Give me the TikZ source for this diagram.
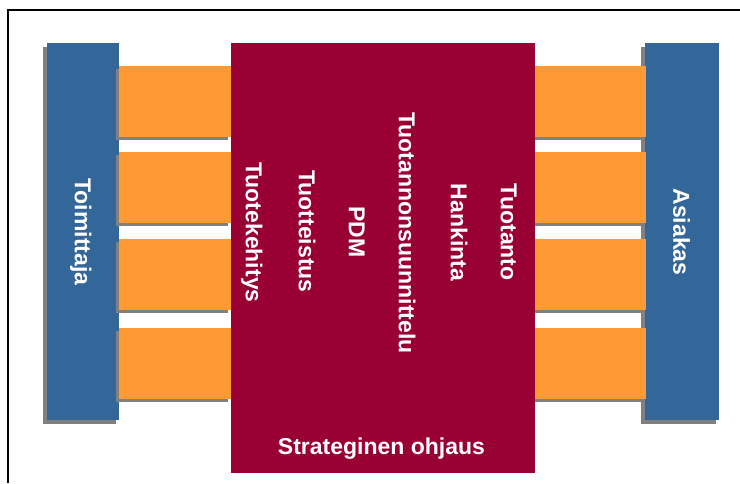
\documentclass[tikz,border=0pt]{standalone}
\usepackage{fontspec}
\setmainfont{Liberation Sans}
\definecolor{barblue}{HTML}{336699}
\definecolor{barorange}{HTML}{FF9933}
\definecolor{boxred}{HTML}{990033}
\definecolor{shadowgray}{HTML}{808080}
\begin{document}
\begin{tikzpicture}[x=1pt,y=-1pt,
  box/.style={rectangle,inner sep=0pt,outer sep=0pt,draw=none},
  bluebar/.style={box,fill=barblue,minimum width=73pt,minimum height=376.7pt},
  orangebar/.style={box,fill=barorange,minimum width=112pt,minimum height=71pt},
  shadowbox/.style={fill=shadowgray},
  lbl/.style={inner sep=0pt,text=white,font=\fontsize{23}{27}\selectfont\bfseries,
    text height=16.5pt,text depth=0pt},
  vlbl/.style={lbl,rotate=-90}]
\useasboundingbox (0,0) rectangle (740,483);
\fill[white] (0,0) rectangle (740,483);
% frame
\draw[line width=2pt] (7.5,483) -- (7.5,10) -- (740,10);
% blue bar shadows
\fill[shadowgray] (42.7,47.3) rectangle (116.3,424);
\fill[shadowgray] (641,47.3) rectangle (716,424);
% blue bars
\node[bluebar,minimum width=72.6pt] (toim) at (83,231.65) {};
\node[bluebar,minimum width=74.3pt] (asia) at (682.15,231.65) {};
% orange bar shadows and bars
\foreach \i/\yy in {1/101.5,2/187.5,3/274.5,4/363.3}{
  \fill[shadowgray] (116,\yy-35.5+3) rectangle (228,\yy+35.5+3);
  \fill[shadowgray] (532,\yy-35.5+3) rectangle (643,\yy+35.5+3);
  \node[orangebar] (L\i) at (175,\yy) {};
  \node[orangebar,minimum width=111pt] (R\i) at (590.5,\yy) {};
}
% red box
\node[box,fill=boxred,minimum width=304.3pt,minimum height=430pt] (red) at (382.85,258.3) {};
% labels
\node[vlbl] (ttoim) at (83,232) {Toimittaja};
\node[vlbl] (tasia) at (681.7,232) {Asiakas};
\node[vlbl] (t1) at (254,232.5) {Tuotekehitys};
\node[vlbl] (t2) at (307,231.5) {Tuotteistus};
\node[vlbl] (t3) at (357,231.7) {PDM};
\node[vlbl] (t4) at (407,233) {Tuotannonsuunnittelu};
\node[vlbl] (t5) at (459,232.5) {Hankinta};
\node[vlbl] (t6) at (509,232.3) {Tuotanto};
\node[lbl] (strat) at (381.5,446.5) {Strateginen ohjaus};
\end{tikzpicture}
\end{document}
